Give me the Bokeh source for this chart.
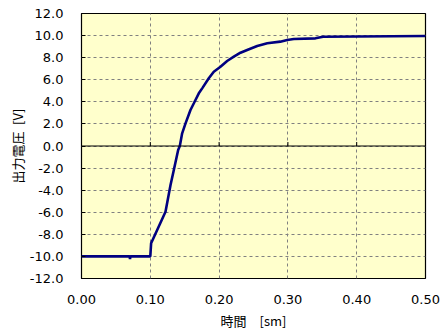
from bokeh.plotting import figure
from bokeh.models import FixedTicker, NumeralTickFormatter, Span, Range1d
from bokeh.embed import file_html
from bokeh.resources import INLINE

# data (time [ms], output voltage [V])
time_ms = [0.000, 0.070, 0.0705, 0.071, 0.100, 0.1012, 0.1221, 0.1294, 0.1342, 0.1405,
           0.1429, 0.1463, 0.1512, 0.1584, 0.1633, 0.1705, 0.1754, 0.1850, 0.1923,
           0.2020, 0.2117, 0.2214, 0.2311, 0.2408, 0.2554, 0.2700, 0.2890, 0.2990,
           0.3086, 0.3400, 0.3510, 0.5000]
voltage = [-10.0, -10.0, -10.25, -10.0, -10.0, -8.8, -5.95, -3.53, -2.17, -0.36,
           0.0, 1.15, 2.05, 3.26, 3.87, 4.77, 5.22, 6.13, 6.73,
           7.18, 7.70, 8.09, 8.45, 8.70, 9.06, 9.30, 9.45, 9.60,
           9.69, 9.75, 9.90, 9.96]

x_ticks = [0.0, 0.1, 0.2, 0.3, 0.4, 0.5]
y_ticks = [-12, -10, -8, -6, -4, -2, 0, 2, 4, 6, 8, 10, 12]
x_title = "時間\u3000[sm]"
y_title = "出力電圧\u2002[V]"

p = figure(width=445, height=335, output_backend="svg", toolbar_location=None,
           x_range=Range1d(0, 0.5), y_range=Range1d(-12, 12),
           min_border_left=81, min_border_right=20, min_border_top=13, min_border_bottom=57)

p.background_fill_color = "#FFFFCC"
p.border_fill_color = "white"
p.outline_line_color = "black"
p.outline_line_width = 1.2

for g in (p.xgrid[0], p.ygrid[0]):
    g.grid_line_color = "#808080"
    g.grid_line_dash = "3 3"
    g.grid_line_width = 1

p.xaxis.ticker = FixedTicker(ticks=x_ticks)
p.yaxis.ticker = FixedTicker(ticks=y_ticks)
p.xaxis.formatter = NumeralTickFormatter(format="0.00")
p.yaxis.formatter = NumeralTickFormatter(format="0.0")

for ax in (p.xaxis[0], p.yaxis[0]):
    ax.axis_line_color = None
    ax.minor_tick_line_color = None
    ax.major_label_text_font = "DejaVu Sans"
    ax.major_label_text_font_size = "13px"
    ax.major_label_text_color = "black"
    ax.axis_label_text_font = "Noto Sans CJK JP"
    ax.axis_label_text_font_size = "13px"
    ax.axis_label_text_font_style = "normal"
    ax.axis_label_text_color = "black"

p.xaxis.major_tick_in = 0
p.xaxis.major_tick_out = 0
p.xaxis.major_label_standoff = 16
p.xaxis.axis_label = x_title
p.xaxis.axis_label_standoff = 4

p.yaxis.major_tick_line_color = "black"
p.yaxis.major_tick_in = 4
p.yaxis.major_tick_out = 0
p.yaxis.major_label_standoff = 18
p.yaxis.axis_label = y_title
p.yaxis.axis_label_standoff = 0

p.add_layout(Span(location=0, dimension="width", line_color="black", line_width=1.2))
p.ray(x=x_ticks[1:-1], y=[0] * (len(x_ticks) - 2), length=4, length_units="screen",
      angle=90, angle_units="deg", line_color="black", line_width=1)

p.line(time_ms, voltage, line_color="#000080", line_width=2.6)

open("out.html", "w").write(file_html(p, INLINE))
